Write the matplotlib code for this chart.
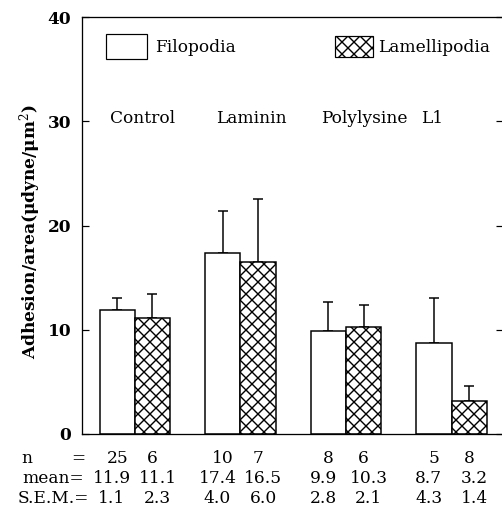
import matplotlib.pyplot as plt
import matplotlib.transforms as mtransforms
from matplotlib.patches import Rectangle

groups = ['Control', 'Laminin', 'Polylysine', 'L1']
n_filo = [25, 10, 8, 5]
n_lam = [6, 7, 6, 8]
mean_filo = [11.9, 17.4, 9.9, 8.7]
mean_lam = [11.1, 16.5, 10.3, 3.2]
sem_filo = [1.1, 4.0, 2.8, 4.3]
sem_lam = [2.3, 6.0, 2.1, 1.4]

plt.rcParams['font.family'] = ['DejaVu Serif']
plt.rcParams['hatch.linewidth'] = 1.4
plt.rcParams['mathtext.fontset'] = 'dejavuserif'

W, H = 502, 506
FS = 17
fig = plt.figure(figsize=(W / 72, H / 72), dpi=72)
ax = fig.add_axes([82 / W, 1 - 434 / H, 421 / W, 417 / H])

xf = [3 * i - 0.5 for i in range(len(groups))]
xl = [3 * i + 0.5 for i in range(len(groups))]

ax.errorbar(xf, mean_filo, yerr=[[0] * 4, sem_filo], fmt='none', ecolor='black',
            elinewidth=1.5, capsize=5, capthick=1.5, zorder=1)
ax.errorbar(xl, mean_lam, yerr=[[0] * 4, sem_lam], fmt='none', ecolor='black',
            elinewidth=1.5, capsize=5, capthick=1.5, zorder=1)
ax.bar(xf, mean_filo, width=1, color='white', edgecolor='black', linewidth=1.5, zorder=2)
ax.bar(xl, mean_lam, width=1, color='white', edgecolor='black', linewidth=1.5,
       hatch='xx', zorder=2)

ax.set_xlim(-1.5, 10.46)
ax.set_ylim(0, 40)
ax.set_yticks([0, 10, 20, 30, 40])
ax.set_xticks([])
ax.tick_params(axis='y', direction='in', length=7, width=1.2, pad=11,
               labelsize=FS, right=True)
for lab in ax.get_yticklabels():
    lab.set_fontweight('bold')
for s in ax.spines.values():
    s.set_linewidth(1.3)

ax.set_ylabel('Adhesion/area(μdyne/μm$^2$)', fontsize=FS, fontweight='bold', va='center')
ax.yaxis.set_label_coords((30 - 82) / 421, (434 - 232) / 417)

# group names
gx = [0.23, 3.3, 6.53, 8.44]
for x, g in zip(gx, groups):
    ax.text(x, 29.8, g, ha='center', va='baseline', fontsize=FS)

# legend
ax.add_patch(Rectangle(((106 - 82) / 421, 1 - (59 - 17) / 417), 41 / 421, 25 / 417,
                       transform=ax.transAxes, facecolor='white', edgecolor='black',
                       linewidth=1.2))
ax.text((155 - 82) / 421, 1 - (48 - 17) / 417, 'Filopodia', transform=ax.transAxes,
        va='center', ha='left', fontsize=FS)
ax.add_patch(Rectangle(((335 - 82) / 421, 1 - (57 - 17) / 417), 38 / 421, 21 / 417,
                       transform=ax.transAxes, facecolor='white', edgecolor='black',
                       linewidth=1.2, hatch='xx'))
ax.text((378 - 82) / 421, 1 - (47 - 17) / 417, 'Lamellipodia', transform=ax.transAxes,
        va='center', ha='left', fontsize=FS, clip_on=False)

# table below axes
trans = mtransforms.blended_transform_factory(ax.transData, fig.transFigure)
rows = [(n_filo, n_lam, 463, 0.0), (mean_filo, mean_lam, 483, 0.15),
        (sem_filo, sem_lam, 503, 0.15)]
fig.text(21 / W, 1 - 463 / H, 'n', ha='left', va='baseline', fontsize=FS)
fig.text(85 / W, 1 - 463 / H, '=', ha='right', va='baseline', fontsize=FS)
fig.text(22 / W, 1 - 483 / H, 'mean=', ha='left', va='baseline', fontsize=FS)
fig.text(18 / W, 1 - 503 / H, 'S.E.M.=', ha='left', va='baseline', fontsize=FS)
for vf, vl, yb, off in rows:
    for x, v in zip(xf, vf):
        ax.text(x - off, 1 - yb / H, str(v), transform=trans, ha='center',
                va='baseline', fontsize=FS)
    for x, v in zip(xl, vl):
        ax.text(x + off, 1 - yb / H, str(v), transform=trans, ha='center',
                va='baseline', fontsize=FS)

fig.savefig('out.png', dpi=72)
